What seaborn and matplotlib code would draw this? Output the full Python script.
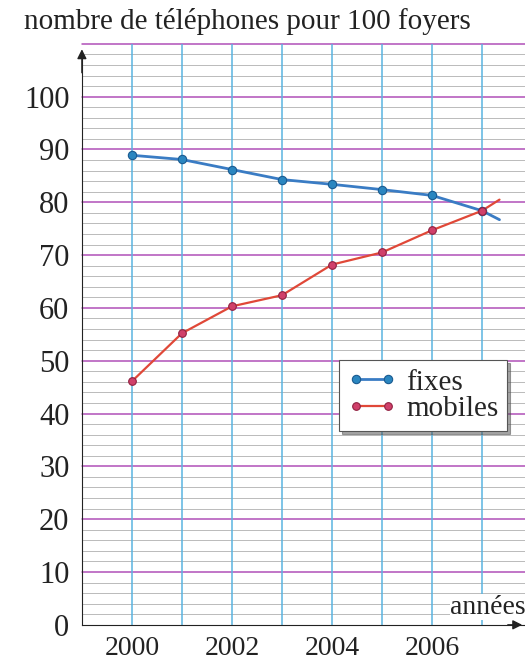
import matplotlib
matplotlib.use("Agg")
import matplotlib.pyplot as plt
import seaborn as sns
import pandas as pd
import numpy as np

years = [2000, 2001, 2002, 2003, 2004, 2005, 2006, 2007]
fixes = [88.9, 88.1, 86.2, 84.3, 83.4, 82.4, 81.3, 78.4]
mobiles = [46.1, 55.2, 60.3, 62.4, 68.2, 70.5, 74.7, 78.4]
# trend extension past the last point (no marker)
ext_year = 2007.35
fixes_ext = 76.7
mobiles_ext = 80.5

year_ticks = [2000, 2002, 2004, 2006]
y_ticks = [0, 10, 20, 30, 40, 50, 60, 70, 80, 90, 100]

sns.set_style("white")
plt.rcParams['font.family'] = ['Liberation Serif', 'DejaVu Serif']

fig = plt.figure(figsize=(5.25, 6.64), dpi=100)
ax = fig.add_axes([0.156, 0.059, 0.844, 0.875])

x0, x1 = 1999, 2007.86
y0, y1 = 0, 110
ax.set_xlim(x0, x1)
ax.set_ylim(y0, y1)

# grid: gray every 2, purple every 10, blue every year
for v in np.arange(2, 110, 2):
    if v % 10 != 0:
        ax.axhline(v, color="#b0b0b0", lw=0.6, zorder=0)
for v in range(10, 111, 10):
    ax.axhline(v, color="#b050b8", lw=1.1, zorder=1, clip_on=False)
for yr in range(2000, 2008):
    ax.axvline(yr, color="#5ab4e0", lw=1.1, zorder=1)

df = pd.DataFrame({"year": years * 2,
                   "value": fixes + mobiles,
                   "serie": ["fixes"] * len(years) + ["mobiles"] * len(years)})

blue = "#3a7cc4"
red = "#e04838"
ax.plot([years[-1], ext_year], [fixes[-1], fixes_ext], color=blue, lw=2, zorder=3)
ax.plot([years[-1], ext_year], [mobiles[-1], mobiles_ext], color=red, lw=1.6, zorder=3)

sns.lineplot(data=df[df.serie == "fixes"], x="year", y="value", ax=ax, color=blue,
             lw=2, marker="o", markersize=6, markerfacecolor="#2a86c0",
             markeredgecolor="#1a5a90", markeredgewidth=0.8, label="fixes", zorder=4)
sns.lineplot(data=df[df.serie == "mobiles"], x="year", y="value", ax=ax, color=red,
             lw=1.6, marker="o", markersize=5.5, markerfacecolor="#d0406a",
             markeredgecolor="#902040", markeredgewidth=0.8, label="mobiles", zorder=4)

ax.set_xlabel("")
ax.set_ylabel("")
ax.set_yticks(y_ticks)
ax.set_yticklabels([str(v) for v in y_ticks], fontsize=22, color="#222222")
ax.set_xticks(list(range(2000, 2008)))
ax.set_xticklabels([str(y) if y in year_ticks else "" for y in range(2000, 2008)],
                   fontsize=20, color="#222222")
ax.tick_params(axis="both", direction="out", length=7, width=1, color="#222222", pad=2)
ax.tick_params(axis="x", pad=1)

for s in ["top", "right"]:
    ax.spines[s].set_visible(False)
ax.spines["left"].set_color("#222222")
ax.spines["bottom"].set_color("#222222")
ax.spines["left"].set_bounds(0, 108.5)
ax.spines["left"].set_zorder(5)
ax.spines["bottom"].set_zorder(5)

# axis arrows
ax.annotate("", xy=(x0, 109.5), xytext=(x0, 104), annotation_clip=False,
            arrowprops=dict(arrowstyle="-|>", color="#222222", lw=1, mutation_scale=14))
ax.annotate("", xy=(x1, 0), xytext=(x1 - 0.4, 0), annotation_clip=False,
            arrowprops=dict(arrowstyle="-|>", color="#222222", lw=1, mutation_scale=14), zorder=6)

ax.text(x1 + 0.02, 1.0, "années", fontsize=20, ha="right", va="bottom", color="#222222",
        zorder=6, bbox=dict(facecolor="white", edgecolor="none", pad=0.5))
fig.text(0.046, 0.968, "nombre de téléphones pour 100 foyers", fontsize=21,
         ha="left", va="center", color="#222222")

leg = ax.legend(loc="upper left", bbox_to_anchor=(0.58, 0.455), fontsize=21,
                frameon=True, fancybox=False, shadow=True, handlelength=1.7,
                handletextpad=0.3, borderpad=0.3, labelspacing=0.0, borderaxespad=0,
                numpoints=2)
leg.get_frame().set_edgecolor("#555555")
leg.get_frame().set_linewidth(0.8)
leg.set_zorder(10)

fig.savefig("out.png", dpi=100)
